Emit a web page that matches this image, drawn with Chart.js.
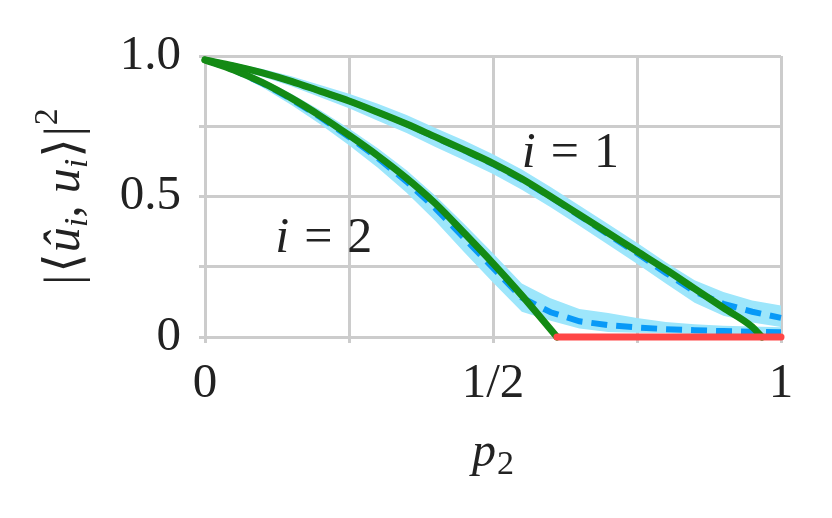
<!DOCTYPE html>
<html>
<head>
<meta charset="utf-8">
<script src="https://cdn.jsdelivr.net/npm/chart.js@4.4.1/dist/chart.umd.min.js"></script>
<style>
  html, body { margin: 0; padding: 0; background: #fff; }
  #wrap { width: 832px; height: 518px; }
</style>
</head>
<body>
<div id="wrap"><canvas id="overlap" width="832" height="518"></canvas></div>
<script>
// p2 grid for the simulated curves
const p2 = [0, 0.05, 0.1, 0.15, 0.2, 0.25, 0.3, 0.35, 0.4, 0.45, 0.5,
            0.55, 0.6, 0.65, 0.7, 0.75, 0.8, 0.85, 0.9, 0.95, 1.0];

// simulated mean (dashed) and spread band, i = 1
const sim1Mean  = [0.986, 0.965, 0.94, 0.91, 0.875, 0.84, 0.80, 0.758, 0.71, 0.664, 0.615,
                   0.56, 0.498, 0.432, 0.365, 0.298, 0.228, 0.162, 0.118, 0.09, 0.068];
const sim1Upper = [0.991, 0.975, 0.954, 0.928, 0.897, 0.866, 0.83, 0.79, 0.744, 0.699, 0.65,
                   0.596, 0.534, 0.468, 0.402, 0.335, 0.266, 0.202, 0.16, 0.13, 0.112];
const sim1Lower = [0.981, 0.955, 0.926, 0.892, 0.853, 0.814, 0.77, 0.726, 0.676, 0.629, 0.58,
                   0.524, 0.462, 0.396, 0.328, 0.261, 0.19, 0.122, 0.076, 0.052, 0.036];

// simulated mean (dashed) and spread band, i = 2
const sim2Mean  = [0.986, 0.95, 0.903, 0.846, 0.782, 0.712, 0.637, 0.553, 0.458, 0.352, 0.246,
                   0.14, 0.088, 0.056, 0.042, 0.034, 0.028, 0.024, 0.021, 0.019, 0.017];
const sim2Upper = [0.991, 0.96, 0.918, 0.866, 0.807, 0.742, 0.672, 0.593, 0.503, 0.402, 0.298,
                   0.19, 0.138, 0.1, 0.085, 0.068, 0.053, 0.045, 0.04, 0.037, 0.035];
const sim2Lower = [0.981, 0.94, 0.888, 0.826, 0.757, 0.682, 0.602, 0.513, 0.413, 0.302, 0.194,
                   0.09, 0.058, 0.03, 0.018, 0.015, 0.014, 0.011, 0.009, 0.008, 0.007];

// theory curves (solid green)
const theory1X = [0, 0.05, 0.1, 0.15, 0.2, 0.25, 0.3, 0.35, 0.4, 0.45, 0.5, 0.55, 0.6, 0.65, 0.7, 0.75, 0.8, 0.85, 0.9, 0.95, 0.967];
const theory1Y = [0.986, 0.965, 0.94, 0.91, 0.875, 0.84, 0.80, 0.758, 0.712, 0.666, 0.618, 0.563, 0.50, 0.435, 0.37, 0.305, 0.24, 0.172, 0.104, 0.036, 0];
const theory2X = [0, 0.05, 0.1, 0.15, 0.2, 0.25, 0.3, 0.35, 0.4, 0.45, 0.5, 0.55, 0.611];
const theory2Y = [0.986, 0.95, 0.905, 0.85, 0.787, 0.718, 0.645, 0.565, 0.475, 0.37, 0.262, 0.148, 0];

// zero segment past the second threshold (red)
const zeroX = [0.611, 1.0];
const zeroY = [0, 0];

// axis tick labels
const xTickLabels = { 0: '0', 0.5: '1/2', 1: '1' };
const yTickLabels = { 0: '0', 0.5: '0.5', 1: '1.0' };

const SERIF = '"Liberation Serif", "DejaVu Serif", serif';
const BAND = '#9de6fb';
const DASH = '#0899f7';
const GREEN = '#148a14';
const RED = '#ff4646';

function pts(xs, ys) { return xs.map((x, i) => ({ x: x, y: ys[i] })); }

// text pieces (normal / italic / sub / sup) laid out left to right from x on baseline y
function richWidth(ctx, parts) {
  let w = 0;
  parts.forEach(p => {
    ctx.font = (p.italic ? 'italic ' : '') + p.size + 'px ' + SERIF;
    w += ctx.measureText(p.t).width + (p.gap || 0);
  });
  return w;
}
function drawRich(ctx, parts, x, y) {
  let cx = x;
  parts.forEach(p => {
    ctx.font = (p.italic ? 'italic ' : '') + p.size + 'px ' + SERIF;
    ctx.fillText(p.t, cx, y + (p.dy || 0));
    cx += ctx.measureText(p.t).width + (p.gap || 0);
  });
}

const yTitle = [
  { t: '|', size: 50, gap: 2 },
  { t: '⟨', size: 50, gap: 1 },
  { t: 'û', italic: true, size: 50 },
  { t: 'i', italic: true, size: 34, dy: 8 },
  { t: ',', size: 50, gap: 12 },
  { t: 'u', italic: true, size: 50 },
  { t: 'i', italic: true, size: 34, dy: 8, gap: 1 },
  { t: '⟩', size: 50, gap: 2 },
  { t: '|', size: 50, gap: 1 },
  { t: '2', size: 34, dy: -22 }
];
const xTitle = [
  { t: 'p', italic: true, size: 48, gap: 1 },
  { t: '2', size: 34, dy: 8 }
];
const label1 = [
  { t: 'i', italic: true, size: 50, gap: 15 },
  { t: '=', size: 50, gap: 15 },
  { t: '1', size: 50 }
];
const label2 = [
  { t: 'i', italic: true, size: 50, gap: 15 },
  { t: '=', size: 50, gap: 15 },
  { t: '2', size: 50 }
];

const textPlugin = {
  id: 'mathText',
  afterDatasetsDraw(chart) {
    const ctx = chart.ctx;
    const xs = chart.scales.x, ys = chart.scales.y;
    const area = chart.chartArea;
    ctx.save();
    ctx.fillStyle = '#222';
    ctx.textBaseline = 'alphabetic';
    ctx.textAlign = 'left';
    // curve labels, anchored in data space
    drawRich(ctx, label1, xs.getPixelForValue(0.55), ys.getPixelForValue(0.605));
    drawRich(ctx, label2, xs.getPixelForValue(0.122), ys.getPixelForValue(0.302));
    // x title
    const wx = richWidth(ctx, xTitle);
    drawRich(ctx, xTitle, (area.left + area.right) / 2 - wx / 2, 466);
    // y title, rotated
    const wy = richWidth(ctx, yTitle);
    ctx.translate(79, (area.top + area.bottom) / 2);
    ctx.rotate(-Math.PI / 2);
    drawRich(ctx, yTitle, -wy / 2, 0);
    ctx.restore();
  }
};

new Chart(document.getElementById('overlap'), {
  type: 'line',
  data: {
    datasets: [
      { data: pts(p2, sim1Upper), borderWidth: 0, pointRadius: 0, backgroundColor: BAND, fill: '+1', order: 10 },
      { data: pts(p2, sim1Lower), borderWidth: 0, pointRadius: 0, fill: false, order: 10 },
      { data: pts(p2, sim2Upper), borderWidth: 0, pointRadius: 0, backgroundColor: BAND, fill: '+1', order: 10 },
      { data: pts(p2, sim2Lower), borderWidth: 0, pointRadius: 0, fill: false, order: 10 },
      { data: pts(p2, sim1Mean), borderColor: DASH, borderWidth: 6, borderDash: [16, 9], pointRadius: 0, fill: false, order: 5 },
      { data: pts(p2, sim2Mean), borderColor: DASH, borderWidth: 6, borderDash: [16, 9], pointRadius: 0, fill: false, order: 5 },
      { data: pts(theory1X, theory1Y), borderColor: GREEN, borderWidth: 7, borderCapStyle: 'round', pointRadius: 0, fill: false, cubicInterpolationMode: 'monotone', order: 2 },
      { data: pts(theory2X, theory2Y), borderColor: GREEN, borderWidth: 7, borderCapStyle: 'round', pointRadius: 0, fill: false, cubicInterpolationMode: 'monotone', order: 2 },
      { data: pts(zeroX, zeroY), borderColor: RED, borderWidth: 7, borderCapStyle: 'round', pointRadius: 0, fill: false, order: 1 }
    ]
  },
  options: {
    responsive: false,
    animation: false,
    devicePixelRatio: 1,
    clip: false,
    layout: { padding: { left: 0, right: 51, top: 56, bottom: 0 } },
    plugins: { legend: { display: false }, tooltip: { enabled: false } },
    scales: {
      x: {
        type: 'linear',
        min: 0, max: 1,
        afterFit: s => { s.height = 181; },
        border: { display: false },
        grid: { color: '#cccccc', lineWidth: 3, tickLength: 6 },
        ticks: {
          stepSize: 0.25,
          padding: 12,
          color: '#222',
          font: { family: SERIF, size: 49 },
          maxRotation: 0,
          autoSkip: false,
          callback: v => xTickLabels[v] !== undefined ? xTickLabels[v] : ''
        }
      },
      y: {
        min: 0, max: 1,
        afterFit: s => { s.width = 205; },
        border: { display: false },
        grid: { color: '#cccccc', lineWidth: 3, tickLength: 6 },
        ticks: {
          stepSize: 0.25,
          padding: 18,
          color: '#222',
          font: { family: SERIF, size: 49 },
          autoSkip: false,
          callback: v => yTickLabels[v] !== undefined ? yTickLabels[v] : ''
        }
      }
    }
  },
  plugins: [textPlugin]
});
</script>
</body>
</html>
